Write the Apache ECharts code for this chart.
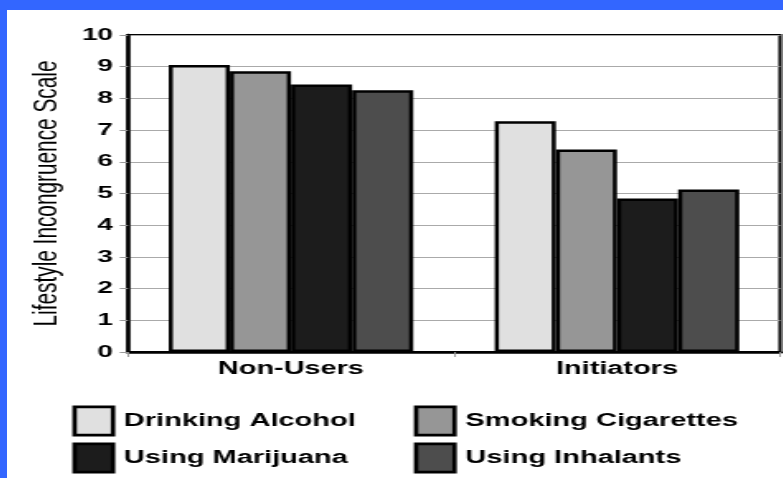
<!DOCTYPE html>
<html><head><meta charset="utf-8">
<script src="https://cdn.jsdelivr.net/npm/echarts/dist/echarts.min.js"></script>
<style>
html,body{margin:0;padding:0;background:#3366ff;width:783px;height:478px;overflow:hidden}
#panel{position:absolute;left:7px;top:10px;width:776px;height:468px;background:#fff;overflow:hidden}
#plot{position:absolute;left:0;top:0;width:470.3px;height:468px;transform:scaleX(1.65);transform-origin:0 0}
</style></head>
<body><div id="panel"><div id="plot"></div></div>
<script>
const categories = ['Non-Users', 'Initiators'];
const seriesNames = ['Drinking Alcohol', 'Smoking Cigarettes', 'Using Marijuana', 'Using Inhalants'];
const drinkingAlcohol = [9.05, 7.28];
const smokingCigarettes = [8.86, 6.39];
const usingMarijuana = [8.44, 4.84];
const usingInhalants = [8.26, 5.13];
const yMin = 0, yMax = 10, yStep = 1;
const axisName = 'Lifestyle Incongruence Scale';

const seriesValues = [drinkingAlcohol, smokingCigarettes, usingMarijuana, usingInhalants];
const fills = ['#e0e0e0', '#969696', '#1c1c1c', '#4d4d4d'];
const FONT = '"Liberation Sans", Arial, sans-serif';

const legText = { color: '#000', fontSize: 17.6, fontWeight: 'bold', fontFamily: FONT, padding: [0, 0, 0, 1.5] };
const legBase = { orient: 'vertical', top: 395.5, padding: 0, itemWidth: 23.3, itemHeight: 28.3, itemGap: 6, icon: 'rect', selectedMode: false, textStyle: legText, itemStyle: { borderColor: '#000', borderWidth: 2.7 } };

const plot = echarts.init(document.getElementById('plot'));
plot.setOption({
  animation: false,
  grid: { left: 73.3, right: 1.5, top: 25, bottom: 126, show: true, borderColor: '#000', borderWidth: 2, backgroundColor: 'transparent' },
  legend: [
    Object.assign({}, legBase, { data: [seriesNames[0], seriesNames[2]], left: 39.6 }),
    Object.assign({}, legBase, { data: [seriesNames[1], seriesNames[3]], left: 246.6 })
  ],
  xAxis: {
    type: 'category', data: categories,
    axisLine: { lineStyle: { color: '#000', width: 2.5 } },
    axisTick: { show: true, length: 5, lineStyle: { color: '#999', width: 1 } },
    axisLabel: { color: '#000', fontSize: 17.5, fontWeight: 'bold', fontFamily: FONT, margin: 8 }
  },
  yAxis: {
    type: 'value', min: yMin, max: yMax, interval: yStep,
    name: axisName, nameLocation: 'middle', nameGap: 36.8,
    nameTextStyle: { color: '#000', fontSize: 20.8, fontFamily: FONT },
    axisLine: { show: true, lineStyle: { color: '#000', width: 2.5 } },
    axisTick: { show: true, length: 5, lineStyle: { color: '#999', width: 1 } },
    axisLabel: { color: '#000', fontSize: 17, fontWeight: 'bold', fontFamily: FONT, margin: 9 },
    splitLine: { show: true, lineStyle: { color: '#aaa', width: 1 } }
  },
  series: seriesNames.map((n, i) => ({
    name: n, type: 'bar', data: seriesValues[i],
    barGap: '0%', barCategoryGap: '25%',
    itemStyle: { color: fills[i], borderColor: '#000', borderWidth: 2.5 }
  }))
});
</script>
</body></html>
